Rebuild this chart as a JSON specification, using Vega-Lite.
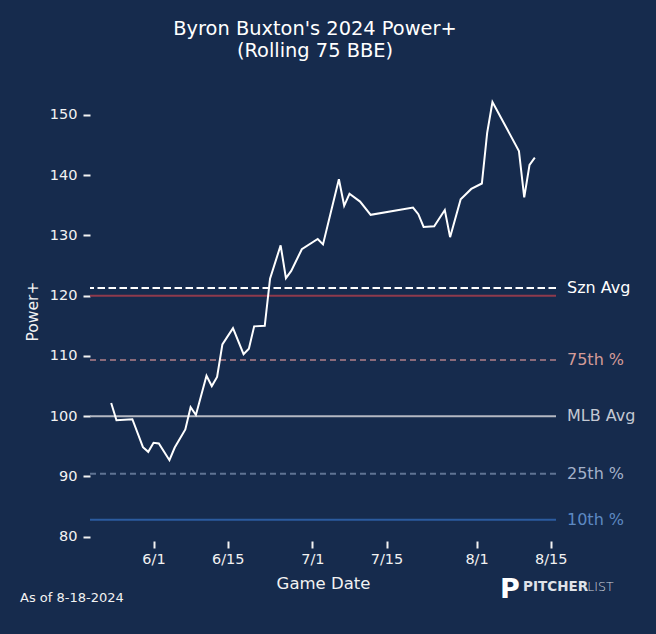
{
  "$schema": "https://vega.github.io/schema/vega-lite/v6.json",
  "description": "Byron Buxton's 2024 Power+, rolling 75 BBE, with MLB reference lines.",
  "autosize": {"type": "none"},
  "width": 466,
  "height": 460,
  "padding": {"left": 90, "top": 81, "right": 100, "bottom": 93},
  "background": "#162b4d",
  "config": {
    "view": {"stroke": "transparent"},
    "font": "DejaVu Sans",
    "axis": {
      "domain": false,
      "grid": false,
      "tickColor": "#f2f2f2",
      "tickWidth": 2,
      "tickSize": 7,
      "labelFont": "DejaVu Sans",
      "labelFontSize": 14.5,
      "labelColor": "#f2f2f2",
      "titleFont": "DejaVu Sans",
      "titleFontWeight": "normal",
      "titleColor": "#f2f2f2"
    },
    "text": {"font": "DejaVu Sans"}
  },
  "title": {
    "text": ["Byron Buxton's 2024 Power+", "(Rolling 75 BBE)"],
    "font": "DejaVu Sans",
    "fontSize": 19.4,
    "fontWeight": "normal",
    "color": "#ffffff",
    "anchor": "middle",
    "lineHeight": 22,
    "offset": 20,
    "dx": -8
  },
  "resolve": {"scale": {"color": "independent", "strokeDash": "independent"}},
  "layer": [
    {
      "data": {
        "values": [
          {"name": "Szn Avg", "power": 121.27},
          {"name": "90th", "power": 119.97},
          {"name": "75th %", "power": 109.34},
          {"name": "MLB Avg", "power": 100},
          {"name": "25th %", "power": 90.44},
          {"name": "10th %", "power": 82.82}
        ]
      },
      "mark": {"type": "rule", "strokeWidth": 2},
      "encoding": {
        "y": {
          "field": "power",
          "type": "quantitative",
          "scale": {"domain": [79.3, 155.6], "nice": false, "zero": false},
          "axis": {
            "title": "Power+",
            "titleFontSize": 15.5,
            "titlePadding": 9,
            "labelPadding": 6,
            "values": [80, 90, 100, 110, 120, 130, 140, 150]
          }
        },
        "color": {
          "field": "name",
          "type": "nominal",
          "legend": null,
          "scale": {
            "domain": ["Szn Avg", "90th", "75th %", "MLB Avg", "25th %", "10th %"],
            "range": ["#ffffff", "#8e3a4c", "#8a6a7a", "#b4b8c2", "#5f7393", "#2b5b9f"]
          }
        },
        "strokeDash": {
          "field": "name",
          "type": "nominal",
          "legend": null,
          "scale": {
            "domain": ["Szn Avg", "90th", "75th %", "MLB Avg", "25th %", "10th %"],
            "range": [[7.5, 3.5], [1, 0], [6, 4], [1, 0], [6, 4], [1, 0]]
          }
        }
      }
    },
    {
      "data": {
        "values": [
          {"label": "Szn Avg", "power": 121.27},
          {"label": "75th %", "power": 109.34},
          {"label": "MLB Avg", "power": 100},
          {"label": "25th %", "power": 90.44},
          {"label": "10th %", "power": 82.82}
        ]
      },
      "mark": {"type": "text", "align": "left", "baseline": "middle", "dx": 11, "fontSize": 16},
      "encoding": {
        "x": {"datum": {"year": 2024, "month": 8, "date": 16, "utc": true}, "type": "temporal"},
        "y": {"field": "power", "type": "quantitative"},
        "text": {"field": "label"},
        "color": {
          "field": "label",
          "type": "nominal",
          "legend": null,
          "scale": {
            "domain": ["Szn Avg", "75th %", "MLB Avg", "25th %", "10th %"],
            "range": ["#ffffff", "#d49b98", "#c3c8d2", "#a3b1c9", "#5d89c2"]
          }
        }
      }
    },
    {
      "data": {
        "values": [
          {"date": "2024-05-24", "power": 102.2},
          {"date": "2024-05-25", "power": 99.34},
          {"date": "2024-05-28", "power": 99.5},
          {"date": "2024-05-30", "power": 94.87},
          {"date": "2024-05-31", "power": 94.09},
          {"date": "2024-06-01", "power": 95.6},
          {"date": "2024-06-02", "power": 95.47},
          {"date": "2024-06-04", "power": 92.7},
          {"date": "2024-06-05", "power": 94.8},
          {"date": "2024-06-07", "power": 97.8},
          {"date": "2024-06-08", "power": 101.5},
          {"date": "2024-06-09", "power": 100.2},
          {"date": "2024-06-11", "power": 106.7},
          {"date": "2024-06-12", "power": 105.0},
          {"date": "2024-06-13", "power": 106.5},
          {"date": "2024-06-14", "power": 111.9},
          {"date": "2024-06-16", "power": 114.6},
          {"date": "2024-06-18", "power": 110.3},
          {"date": "2024-06-19", "power": 111.2},
          {"date": "2024-06-20", "power": 114.9},
          {"date": "2024-06-22", "power": 115.0},
          {"date": "2024-06-23", "power": 122.8},
          {"date": "2024-06-25", "power": 128.35},
          {"date": "2024-06-26", "power": 122.9},
          {"date": "2024-06-27", "power": 124.1},
          {"date": "2024-06-29", "power": 127.7},
          {"date": "2024-07-02", "power": 129.4},
          {"date": "2024-07-03", "power": 128.5},
          {"date": "2024-07-06", "power": 139.3},
          {"date": "2024-07-07", "power": 134.9},
          {"date": "2024-07-08", "power": 136.9},
          {"date": "2024-07-10", "power": 135.6},
          {"date": "2024-07-12", "power": 133.4},
          {"date": "2024-07-20", "power": 134.6},
          {"date": "2024-07-21", "power": 133.5},
          {"date": "2024-07-22", "power": 131.4},
          {"date": "2024-07-24", "power": 131.5},
          {"date": "2024-07-26", "power": 134.2},
          {"date": "2024-07-27", "power": 129.7},
          {"date": "2024-07-29", "power": 136.0},
          {"date": "2024-07-31", "power": 137.7},
          {"date": "2024-08-02", "power": 138.6},
          {"date": "2024-08-03", "power": 147.0},
          {"date": "2024-08-04", "power": 152.1},
          {"date": "2024-08-09", "power": 144.0},
          {"date": "2024-08-10", "power": 136.3},
          {"date": "2024-08-11", "power": 141.7},
          {"date": "2024-08-12", "power": 142.9}
        ]
      },
      "mark": {"type": "line", "color": "#ffffff", "strokeWidth": 2},
      "encoding": {
        "x": {
          "field": "date",
          "type": "temporal",
          "scale": {
            "type": "utc",
            "domain": [
              {"year": 2024, "month": 5, "date": 20, "utc": true},
              {"year": 2024, "month": 8, "date": 16, "utc": true}
            ]
          },
          "axis": {
            "title": "Game Date",
            "titleFontSize": 16.5,
            "titlePadding": 10,
            "labelPadding": 4,
            "format": "%-m/%-d",
            "values": [
              {"year": 2024, "month": 6, "date": 1, "utc": true},
              {"year": 2024, "month": 6, "date": 15, "utc": true},
              {"year": 2024, "month": 7, "date": 1, "utc": true},
              {"year": 2024, "month": 7, "date": 15, "utc": true},
              {"year": 2024, "month": 8, "date": 1, "utc": true},
              {"year": 2024, "month": 8, "date": 15, "utc": true}
            ]
          }
        },
        "y": {
          "field": "power",
          "type": "quantitative",
          "axis": {
            "title": "Power+",
            "titleFontSize": 15.5,
            "titlePadding": 9,
            "labelPadding": 6,
            "values": [80, 90, 100, 110, 120, 130, 140, 150]
          }
        }
      }
    },
    {
      "data": {"values": [{}]},
      "mark": {"type": "text", "text": "As of 8-18-2024", "align": "left", "baseline": "alphabetic", "fontSize": 13, "color": "#f2f2f2"},
      "encoding": {
        "x": {"datum": {"year": 2024, "month": 5, "date": 6, "hours": 19, "utc": true}, "type": "temporal"},
        "y": {"datum": 69.24, "type": "quantitative"}
      }
    },
    {
      "data": {"values": [{}]},
      "mark": {"type": "text", "text": "P", "align": "left", "baseline": "alphabetic", "fontSize": 27, "fontWeight": "bold", "color": "#ffffff"},
      "encoding": {
        "x": {"datum": {"year": 2024, "month": 8, "date": 5, "hours": 10, "utc": true}, "type": "temporal"},
        "y": {"datum": 69.85, "type": "quantitative"}
      }
    },
    {
      "data": {"values": [{}]},
      "mark": {"type": "text", "text": "PITCHER", "align": "left", "baseline": "alphabetic", "fontSize": 13.5, "fontWeight": "bold", "color": "#dfe2e8"},
      "encoding": {
        "x": {"datum": {"year": 2024, "month": 8, "date": 9, "hours": 19, "utc": true}, "type": "temporal"},
        "y": {"datum": 71.06, "type": "quantitative"}
      }
    },
    {
      "data": {"values": [{}]},
      "mark": {"type": "text", "text": "LIST", "align": "left", "baseline": "alphabetic", "fontSize": 12.5, "fontWeight": 300, "color": "#cfd3dc"},
      "encoding": {
        "x": {"datum": {"year": 2024, "month": 8, "date": 21, "hours": 22, "utc": true}, "type": "temporal"},
        "y": {"datum": 71.06, "type": "quantitative"}
      }
    }
  ]
}
